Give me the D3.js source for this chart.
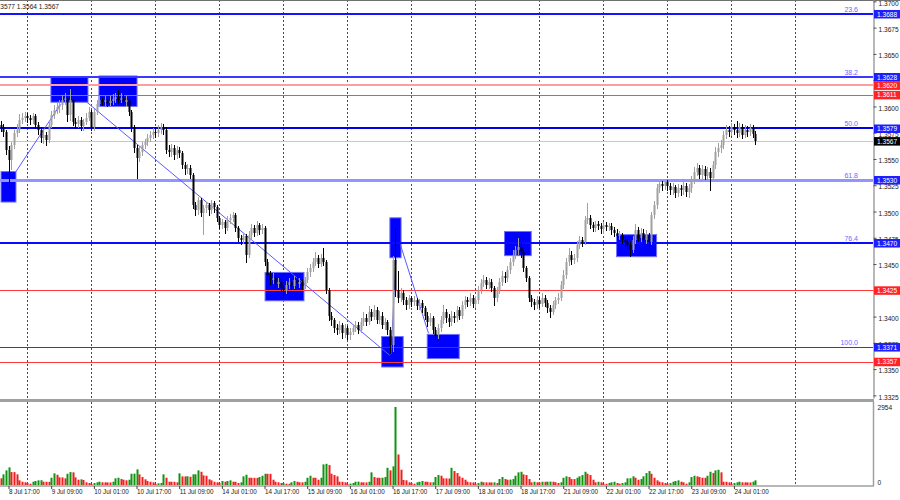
<!DOCTYPE html>
<html><head><meta charset="utf-8">
<script src="https://cdn.jsdelivr.net/npm/d3@7"></script>
<style>body{margin:0;background:#fff}svg{display:block}</style>
</head><body><svg id="c" width="900" height="500"></svg>
<script>
// ---------- DATA (GBPUSD H1, 8 Jul 14:00 .. 24 Jul 09:00) ----------
const firstOpen = 1.3582;
const closes = [
1.3580,1.3576,1.3559,1.3549,1.3563,1.3575,1.3578,1.3587,1.3589,1.3591,
1.3589,1.3587,1.3591,1.3582,1.3578,1.3570,1.3573,1.3568,1.3582,1.3592,
1.3597,1.3599,1.3601,1.3606,1.3608,1.3592,1.3606,1.3585,1.3583,1.3587,
1.3581,1.3585,1.3589,1.3595,1.3580,1.3595,1.3602,1.3606,1.3604,1.3606,
1.3603,1.3605,1.3607,1.3609,1.3606,1.3608,1.3604,1.3606,1.3595,1.3580,
1.3560,1.3551,1.3557,1.3563,1.3566,1.3570,1.3573,1.3576,1.3575,1.3578,
1.3580,1.3578,1.3559,1.3557,1.3560,1.3554,1.3559,1.3556,1.3544,1.3540,
1.3541,1.3535,1.3506,1.3501,1.3511,1.3499,1.3503,1.3506,1.3501,1.3508,
1.3504,1.3494,1.3487,1.3490,1.3484,1.3492,1.3494,1.3497,1.3484,1.3475,
1.3473,1.3477,1.3459,1.3478,1.3484,1.3480,1.3487,1.3482,1.3484,1.3452,
1.3440,1.3435,1.3437,1.3431,1.3433,1.3427,1.3425,1.3430,1.3433,1.3429,
1.3435,1.3431,1.3433,1.3429,1.3435,1.3442,1.3446,1.3452,1.3456,1.3450,
1.3456,1.3452,1.3425,1.3401,1.3397,1.3389,1.3387,1.3392,1.3384,1.3389,
1.3382,1.3385,1.3389,1.3392,1.3387,1.3395,1.3399,1.3395,1.3404,1.3400,
1.3406,1.3397,1.3401,1.3392,1.3395,1.3387,1.3373,1.3454,1.3425,1.3418,
1.3422,1.3416,1.3411,1.3418,1.3414,1.3416,1.3410,1.3413,1.3408,1.3401,
1.3395,1.3399,1.3387,1.3382,1.3389,1.3397,1.3404,1.3399,1.3395,1.3401,
1.3399,1.3406,1.3401,1.3411,1.3416,1.3414,1.3418,1.3412,1.3416,1.3425,
1.3432,1.3435,1.3430,1.3433,1.3427,1.3418,1.3425,1.3433,1.3439,1.3437,
1.3444,1.3452,1.3459,1.3463,1.3466,1.3461,1.3446,1.3437,1.3418,1.3414,
1.3411,1.3416,1.3412,1.3418,1.3413,1.3408,1.3404,1.3411,1.3416,1.3418,
1.3430,1.3440,1.3452,1.3459,1.3454,1.3456,1.3468,1.3473,1.3471,1.3492,
1.3494,1.3487,1.3484,1.3488,1.3486,1.3483,1.3487,1.3485,1.3486,1.3482,
1.3480,1.3477,1.3478,1.3473,1.3471,1.3468,1.3463,1.3473,1.3482,1.3475,
1.3480,1.3473,1.3478,1.3471,1.3497,1.3506,1.3522,1.3526,1.3524,1.3528,
1.3524,1.3520,1.3523,1.3518,1.3522,1.3520,1.3524,1.3519,1.3522,1.3530,
1.3538,1.3541,1.3535,1.3540,1.3534,1.3538,1.3532,1.3544,1.3557,1.3560,
1.3563,1.3573,1.3578,1.3576,1.3580,1.3578,1.3575,1.3580,1.3573,1.3578,
1.3576,1.3579,1.3574,1.3567];
const highs = [
1.3586,1.3583,1.3578,1.3562,1.3566,1.3578,1.3583,1.3593,1.3594,1.3595,
1.3594,1.3592,1.3594,1.3593,1.3585,1.3580,1.3577,1.3576,1.3585,1.3596,
1.3601,1.3604,1.3606,1.3611,1.3613,1.3610,1.3617,1.3609,1.3589,1.3591,
1.3590,1.3588,1.3594,1.3599,1.3597,1.3598,1.3606,1.3610,1.3609,1.3610,
1.3609,1.3610,1.3612,1.3613,1.3616,1.3613,1.3611,1.3610,1.3608,1.3597,
1.3582,1.3563,1.3561,1.3566,1.3569,1.3574,1.3577,1.3579,1.3580,1.3582,
1.3584,1.3583,1.3580,1.3563,1.3564,1.3563,1.3562,1.3561,1.3558,1.3547,
1.3545,1.3544,1.3537,1.3509,1.3514,1.3513,1.3506,1.3509,1.3508,1.3511,
1.3510,1.3506,1.3496,1.3493,1.3492,1.3496,1.3498,1.3500,1.3499,1.3486,
1.3478,1.3480,1.3479,1.3481,1.3488,1.3487,1.3491,1.3489,1.3488,1.3486,
1.3455,1.3443,1.3441,1.3440,1.3437,1.3436,1.3430,1.3434,1.3437,1.3436,
1.3439,1.3438,1.3437,1.3436,1.3438,1.3446,1.3450,1.3456,1.3461,1.3459,
1.3460,1.3465,1.3454,1.3427,1.3404,1.3399,1.3393,1.3396,1.3394,1.3393,
1.3391,1.3389,1.3392,1.3396,1.3395,1.3399,1.3404,1.3402,1.3410,1.3407,
1.3411,1.3409,1.3405,1.3404,1.3399,1.3397,1.3390,1.3458,1.3484,1.3443,
1.3427,1.3425,1.3419,1.3421,1.3420,1.3420,1.3418,1.3417,1.3416,1.3410,
1.3404,1.3403,1.3401,1.3390,1.3393,1.3401,1.3411,1.3407,1.3402,1.3405,
1.3404,1.3410,1.3409,1.3415,1.3420,1.3419,1.3422,1.3421,1.3420,1.3429,
1.3436,1.3440,1.3438,1.3437,1.3436,1.3429,1.3428,1.3437,1.3443,1.3442,
1.3448,1.3456,1.3463,1.3467,1.3475,1.3470,1.3463,1.3448,1.3439,1.3421,
1.3417,1.3420,1.3419,1.3422,1.3421,1.3416,1.3411,1.3415,1.3419,1.3422,
1.3434,1.3444,1.3456,1.3465,1.3462,1.3460,1.3472,1.3477,1.3476,1.3496,
1.3508,1.3497,1.3490,1.3491,1.3491,1.3489,1.3490,1.3490,1.3489,1.3489,
1.3485,1.3483,1.3481,1.3480,1.3476,1.3474,1.3471,1.3477,1.3488,1.3485,
1.3484,1.3483,1.3482,1.3480,1.3500,1.3510,1.3526,1.3530,1.3529,1.3531,
1.3530,1.3527,1.3527,1.3525,1.3526,1.3525,1.3528,1.3527,1.3526,1.3534,
1.3542,1.3546,1.3544,1.3544,1.3543,1.3542,1.3541,1.3548,1.3561,1.3565,
1.3568,1.3577,1.3582,1.3581,1.3584,1.3583,1.3586,1.3584,1.3583,1.3582,
1.3581,1.3583,1.3582,1.3577];
const lows = [
1.3577,1.3572,1.3555,1.3523,1.3540,1.3560,1.3572,1.3576,1.3584,1.3586,
1.3585,1.3583,1.3584,1.3579,1.3574,1.3566,1.3565,1.3563,1.3566,1.3580,
1.3589,1.3594,1.3595,1.3598,1.3602,1.3586,1.3587,1.3582,1.3579,1.3580,
1.3578,1.3578,1.3583,1.3587,1.3578,1.3578,1.3593,1.3600,1.3601,1.3601,
1.3600,1.3601,1.3602,1.3604,1.3603,1.3604,1.3601,1.3600,1.3592,1.3577,
1.3557,1.3532,1.3548,1.3554,1.3560,1.3563,1.3567,1.3570,1.3571,1.3572,
1.3575,1.3574,1.3556,1.3553,1.3553,1.3550,1.3551,1.3552,1.3541,1.3536,
1.3537,1.3532,1.3503,1.3497,1.3498,1.3496,1.3479,1.3500,1.3497,1.3499,
1.3500,1.3491,1.3484,1.3484,1.3480,1.3482,1.3489,1.3491,1.3481,1.3472,
1.3469,1.3470,1.3452,1.3457,1.3475,1.3477,1.3478,1.3479,1.3480,1.3449,
1.3436,1.3431,1.3432,1.3428,1.3428,1.3424,1.3419,1.3422,1.3427,1.3426,
1.3427,1.3428,1.3428,1.3426,1.3427,1.3433,1.3439,1.3443,1.3449,1.3447,
1.3448,1.3449,1.3422,1.3397,1.3392,1.3385,1.3383,1.3384,1.3380,1.3381,
1.3379,1.3379,1.3383,1.3386,1.3384,1.3385,1.3392,1.3392,1.3393,1.3397,
1.3398,1.3394,1.3394,1.3389,1.3388,1.3383,1.3365,1.3367,1.3420,1.3414,
1.3415,1.3412,1.3407,1.3408,1.3410,1.3411,1.3407,1.3407,1.3404,1.3398,
1.3391,1.3392,1.3384,1.3379,1.3380,1.3386,1.3394,1.3395,1.3391,1.3392,
1.3395,1.3396,1.3398,1.3399,1.3408,1.3410,1.3411,1.3409,1.3409,1.3413,
1.3422,1.3429,1.3427,1.3427,1.3424,1.3411,1.3415,1.3422,1.3430,1.3433,
1.3434,1.3441,1.3449,1.3456,1.3460,1.3457,1.3443,1.3434,1.3415,1.3410,
1.3407,1.3408,1.3409,1.3410,1.3410,1.3404,1.3400,1.3402,1.3408,1.3413,
1.3416,1.3427,1.3437,1.3449,1.3450,1.3451,1.3453,1.3465,1.3467,1.3469,
1.3489,1.3484,1.3481,1.3481,1.3483,1.3480,1.3480,1.3482,1.3482,1.3479,
1.3477,1.3474,1.3474,1.3470,1.3467,1.3465,1.3458,1.3461,1.3470,1.3472,
1.3472,1.3470,1.3470,1.3466,1.3469,1.3494,1.3503,1.3519,1.3520,1.3521,
1.3520,1.3517,1.3517,1.3514,1.3515,1.3516,1.3517,1.3515,1.3514,1.3519,
1.3527,1.3535,1.3532,1.3532,1.3531,1.3531,1.3520,1.3529,1.3541,1.3553,
1.3557,1.3560,1.3570,1.3572,1.3573,1.3574,1.3571,1.3572,1.3570,1.3571,
1.3572,1.3573,1.3571,1.3564];
const volumes = [
253,403,554,667,490,488,403,177,124,102,
75,49,124,151,177,180,124,122,120,275,
441,388,290,288,253,426,490,479,290,200,
215,189,102,75,38,75,102,124,102,100,
98,96,124,253,275,226,200,177,200,426,
430,592,403,302,215,151,124,102,49,64,
75,403,275,124,122,120,102,441,328,326,
330,313,403,405,554,501,366,351,215,177,
124,102,75,151,124,151,177,124,122,75,
102,328,388,275,273,271,269,302,351,426,
424,422,200,124,102,75,77,49,47,102,
151,124,102,100,124,275,351,275,273,200,
275,780,803,754,426,377,328,124,122,102,
49,51,75,124,126,102,100,98,124,479,
302,275,273,276,302,652,554,705,2954,1157,
577,189,177,102,75,49,102,124,151,124,
122,102,104,302,377,351,253,250,248,652,
528,452,328,275,200,124,102,100,49,75,
124,102,100,98,96,102,75,226,302,226,
200,204,226,351,479,501,403,377,226,102,
124,102,100,124,122,126,128,124,102,75,
102,275,328,302,226,224,275,328,377,501,
426,377,200,102,124,102,49,47,75,102,
124,75,49,75,102,253,255,328,275,200,
226,328,452,528,426,275,177,124,102,75,
49,75,124,151,177,124,102,49,102,302,
351,328,302,275,273,351,501,452,554,577,
479,124,122,102,49,75,102,124,102,100,
98,96,124,177];
const volMax = 2954;

// time axis (bar indices of labels and of midnight separators)
const dateTickBars = [3,19,35,51,67,83,99,115,131,147,163,179,195,211,227,243,259,275];
const dateTickLabels = ["8 Jul 17:00","9 Jul 09:00","10 Jul 01:00","10 Jul 17:00","11 Jul 09:00","14 Jul 01:00","14 Jul 17:00","15 Jul 09:00","16 Jul 01:00","16 Jul 17:00","17 Jul 09:00","18 Jul 01:00","18 Jul 17:00","21 Jul 09:00","22 Jul 01:00","22 Jul 17:00","23 Jul 09:00","24 Jul 01:00"];
const dayGridBars = [10,34,58,82,106,130,154,178,202,226,250,274,298];
const priceTicks = [1.3700,1.3675,1.3650,1.3625,1.3600,1.3575,1.3550,1.3525,1.3500,1.3475,1.3450,1.3425,1.3400,1.3375,1.3350,1.3325];

// levels
const fibPrices = [1.3688,1.3628,1.3579,1.3530,1.3470,1.3371];
const fibLabels = ["23.6","38.2","50.0","61.8","76.4","100.0"];
const redPrices = [1.3620,1.3611,1.3425,1.3357];
const lastPrice = 1.3567;
const headerText = "1.3577 1.3564 1.3567";

// zones [startBar, endBar, topPrice, bottomPrice]
const zoneStart = [0.2,18.9,36.9,99.2,146.0,142.9,160.0,189.0,231.0];
const zoneEnd   = [5.8,32.8,51.2,113.8,150.2,151.0,172.0,199.0,246.0];
const zoneTop   = [1.3538,1.3628,1.3629,1.3442,1.3494,1.3381,1.3383,1.3481,1.3478];
const zoneBot   = [1.3509,1.3604,1.3600,1.3415,1.3456,1.3352,1.3360,1.3458,1.3457];
// trend lines [bar1, price1, bar2, price2]
const trendB1 = [5.8,32.4,146.4,150.0];
const trendP1 = [1.3538,1.3604,1.3364,1.3468];
const trendB2 = [22.5,146.0,148.3,160.5];
const trendP2 = [1.3602,1.3363,1.3456,1.3384];

// ---------- STYLE ----------
const fibStyle = [
 {c:"#1414ff",w:2},{c:"#3a3aff",w:2},{c:"#0000e6",w:2},{c:"#9494ff",w:3},{c:"#0a0aff",w:2},{c:"#3232ff",w:1}];
const redStyle = [{c:"#ff9c9c",w:2},{c:"#ff4a4a",w:1},{c:"#ff3b3b",w:1},{c:"#ff3b3b",w:1}];
const FONT = "'Liberation Sans Narrow','Arial Narrow','Liberation Sans',Arial,sans-serif";
const FS = 6.6, FSD = 6.3;
const PR = 873;

const x = d3.scaleLinear().domain([0,327]).range([0.5, 872.6]);
const y = d3.scaleLinear().domain([1.33225,1.37013]).range([398,0]);
const yv = d3.scaleLinear().domain([0,volMax]).range([485,407]);
const px = v => Math.round(x(v));

const svg = d3.select('#c');
const defs = svg.append('defs');
defs.append('clipPath').attr('id','mc').append('rect').attr('x',0).attr('y',0).attr('width',PR).attr('height',399);
defs.append('clipPath').attr('id','vc').append('rect').attr('x',0).attr('y',402).attr('width',PR).attr('height',84);

const main = svg.append('g').attr('clip-path','url(#mc)');
const vol = svg.append('g').attr('clip-path','url(#vc)');

// day separators
main.selectAll('line.g').data(dayGridBars).join('line')
  .attr('x1',d=>px(d)+0.5).attr('x2',d=>px(d)+0.5).attr('y1',0).attr('y2',399)
  .attr('stroke','#4a4a4a').attr('stroke-dasharray','2,2');
vol.selectAll('line.g').data(dayGridBars).join('line')
  .attr('x1',d=>px(d)+0.5).attr('x2',d=>px(d)+0.5).attr('y1',402).attr('y2',486)
  .attr('stroke','#4a4a4a').attr('stroke-dasharray','2,2');

// zones
main.selectAll('rect.z').data(zoneStart).join('rect')
  .attr('x',(d,i)=>x(d)).attr('width',(d,i)=>x(zoneEnd[i])-x(d))
  .attr('y',(d,i)=>y(zoneTop[i])).attr('height',(d,i)=>y(zoneBot[i])-y(zoneTop[i]))
  .attr('fill','#0000ff').attr('stroke','#7070ff').attr('stroke-width',1);

// horizontal levels
main.append('line').attr('x1',0).attr('x2',PR).attr('y1',Math.round(y(lastPrice))+0.5).attr('y2',Math.round(y(lastPrice))+0.5)
  .attr('stroke','#c8c8c8');
redPrices.forEach((p,i)=>{
  const yy = Math.round(y(p)) + (redStyle[i].w%2 ? 0.5 : 0);
  main.append('line').attr('x1',0).attr('x2',PR).attr('y1',yy).attr('y2',yy)
    .attr('stroke',redStyle[i].c).attr('stroke-width',redStyle[i].w);
});
fibPrices.forEach((p,i)=>{
  const yy = Math.round(y(p)) + (fibStyle[i].w%2 ? 0.5 : 0);
  main.append('line').attr('x1',0).attr('x2',PR).attr('y1',yy).attr('y2',yy)
    .attr('stroke',fibStyle[i].c).attr('stroke-width',fibStyle[i].w);
  main.append('text').attr('x',858).attr('y',Math.round(y(p))-2).attr('text-anchor','end')
    .attr('font-family',FONT).attr('font-size',FS+0.4).attr('fill','#6a6aff').text(fibLabels[i]);
});

// trend lines
main.selectAll('line.t').data(trendB1).join('line')
  .attr('x1',d=>x(d)).attr('y1',(d,i)=>y(trendP1[i]))
  .attr('x2',(d,i)=>x(trendB2[i])).attr('y2',(d,i)=>y(trendP2[i]))
  .attr('stroke','#5a5aff').attr('stroke-width',1);

// candles
const opens = closes.map((c,i)=> i===0 ? firstOpen : closes[i-1]);
const cg = main.append('g');
closes.forEach((c,i)=>{
  const o = opens[i], up = c >= o;
  const col = up ? '#a0a0a0' : '#000000';
  const cx = px(i);
  cg.append('line').attr('x1',cx+0.5).attr('x2',cx+0.5)
    .attr('y1',Math.round(y(highs[i]))).attr('y2',Math.round(y(lows[i]))+1)
    .attr('stroke',col).attr('stroke-width',1);
  const top = Math.round(y(Math.max(o,c))), bot = Math.round(y(Math.min(o,c)));
  cg.append('rect').attr('x',cx-0.5).attr('width',2)
    .attr('y',top).attr('height',Math.max(1,bot-top))
    .attr('fill',col);
});

// volumes
vol.selectAll('rect.v').data(volumes).join('rect')
  .attr('x',(d,i)=>px(i)-0.5).attr('width',2)
  .attr('y',d=>yv(d)).attr('height',d=>485-yv(d))
  .attr('fill',(d,i)=> i>0 && d>volumes[i-1] ? '#119311' : '#f21d1d');

// panel borders
svg.append('line').attr('x1',0).attr('x2',900).attr('y1',0.5).attr('y2',0.5).attr('stroke','#707070');
svg.append('line').attr('x1',0).attr('x2',PR+1).attr('y1',400.5).attr('y2',400.5).attr('stroke','#a0a0a0').attr('stroke-width',3);
svg.append('line').attr('x1',0).attr('x2',PR+1).attr('y1',486).attr('y2',486).attr('stroke','#a0a0a0').attr('stroke-width',1.5);

// price axis
const ax = svg.append('g').attr('transform',`translate(${PR+0.5},0)`)
  .call(d3.axisRight(y).tickValues(priceTicks).tickFormat(d3.format('.4f')).tickSize(3).tickSizeOuter(0).tickPadding(2));
ax.select('.domain').attr('stroke','#a0a0a0').attr('stroke-width',1.5);
ax.selectAll('.tick line').attr('stroke','#505050');
ax.selectAll('text').attr('font-family',FONT).attr('font-size',FS).attr('fill','#202020').attr('dy','0.55em');

// volume axis
const vx = svg.append('g').attr('transform',`translate(${PR+0.5},0)`)
  .call(d3.axisRight(yv).tickValues([0,volMax]).tickFormat(d3.format('d')).tickSize(0).tickSizeOuter(0).tickPadding(4));
vx.select('.domain').attr('stroke','#a0a0a0').attr('stroke-width',1.5).attr('d','M0,402V486');
vx.selectAll('text').attr('font-family',FONT).attr('font-size',FS).attr('fill','#202020');
vx.selectAll('.tick').filter(d=>d===0).select('text').attr('dy','-0.1em');

// level value boxes on the axis
const boxes = [];
fibPrices.forEach(p=>boxes.push({p, bg:'#1e1eff'}));
redPrices.forEach(p=>boxes.push({p, bg:'#ff2424'}));
boxes.push({p:lastPrice, bg:'#000000'});
const bg = svg.append('g');
boxes.forEach(b=>{
  const yy = y(b.p);
  bg.append('rect').attr('x',PR+1).attr('y',yy-4).attr('width',900-PR-1).attr('height',8.5).attr('fill',b.bg);
  bg.append('text').attr('x',PR+4).attr('y',yy+2.6).attr('font-family',FONT).attr('font-size',FS)
    .attr('fill','#ffffff').text(d3.format('.4f')(b.p));
});

// date axis
const dx = svg.append('g').attr('transform','translate(0,486)')
  .call(d3.axisBottom(x).tickValues(dateTickBars).tickFormat((d,i)=>dateTickLabels[i]).tickSize(3).tickSizeOuter(0).tickPadding(1));
dx.select('.domain').remove();
dx.selectAll('.tick line').attr('stroke','#404040');
dx.selectAll('text').attr('text-anchor','start').attr('font-family',FONT).attr('font-size',FSD).attr('fill','#202020');

// header (left part runs off the canvas, as in the terminal screenshot)
svg.append('text').attr('x',59).attr('y',9).attr('text-anchor','end')
  .attr('font-family',FONT).attr('font-size',FS).attr('fill','#202020').text(headerText);
</script></body></html>
